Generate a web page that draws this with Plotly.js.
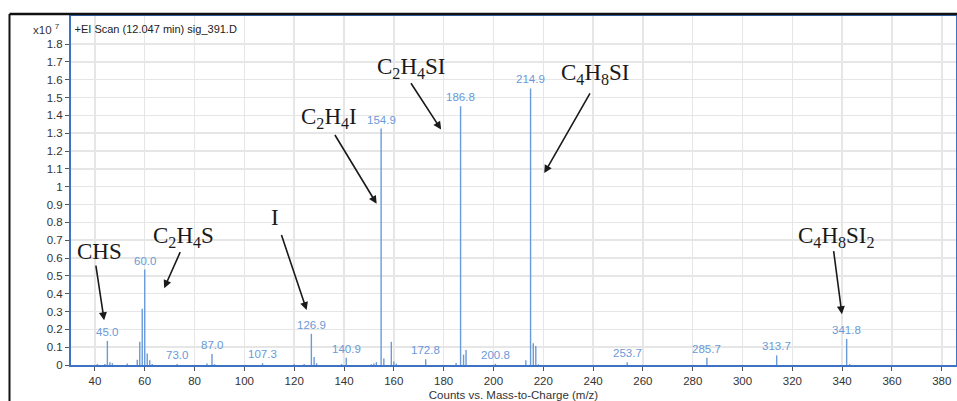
<!DOCTYPE html>
<html>
<head>
<meta charset="utf-8">
<script src="https://cdn.plot.ly/plotly-3.0.1.min.js"></script>
<style>html,body{margin:0;padding:0;background:#fff;}#chart{width:957px;height:401px;}</style>
</head>
<body>
<div id="chart"></div>
<script>
// m/z values and intensities (counts, x10^7)
const mz = [41, 44, 45.0, 46, 47, 53, 57, 58, 59, 60.0, 61, 62, 63, 73.0, 85, 87.0, 88, 107.3, 120, 124, 126.9, 128, 129, 139, 140.9, 151, 152, 153, 154.9, 156, 159, 160, 161, 172.8, 185, 186.8, 188, 189, 200.8, 213, 214.9, 216, 217, 218, 253.7, 285.7, 313.7, 341.8, 343];
const intensity = [0.006, 0.005, 0.135, 0.016, 0.010, 0.008, 0.030, 0.130, 0.315, 0.535, 0.064, 0.027, 0.005, 0.005, 0.008, 0.062, 0.005, 0.010, 0.004, 0.005, 0.175, 0.045, 0.010, 0.005, 0.040, 0.004, 0.008, 0.016, 1.326, 0.036, 0.130, 0.020, 0.008, 0.032, 0.011, 1.451, 0.058, 0.084, 0.007, 0.026, 1.551, 0.122, 0.107, 0.004, 0.016, 0.040, 0.054, 0.146, 0.005];
const labeledPeaks = [45.0, 60.0, 73.0, 87.0, 107.3, 126.9, 140.9, 154.9, 172.8, 186.8, 200.8, 214.9, 253.7, 285.7, 313.7, 341.8];
const xTicks = [40, 60, 80, 100, 120, 140, 160, 180, 200, 220, 240, 260, 280, 300, 320, 340, 360, 380];
const yTicks = [0, 0.1, 0.2, 0.3, 0.4, 0.5, 0.6, 0.7, 0.8, 0.9, 1, 1.1, 1.2, 1.3, 1.4, 1.5, 1.6, 1.7, 1.8];
const fragmentNames = ["CHS", "C<sub>2</sub>H<sub>4</sub>S", "I", "C<sub>2</sub>H<sub>4</sub>I", "C<sub>2</sub>H<sub>4</sub>SI", "C<sub>4</sub>H<sub>8</sub>SI", "C<sub>4</sub>H<sub>8</sub>SI<sub>2</sub>"];

// Stick spectrum built from the arrays
const sx = [], sy = [];
mz.forEach((m, i) => { sx.push(m, m, null); sy.push(0, intensity[i], null); });

const peakColor = '#6a9ad8';

const annotations = [];
labeledPeaks.forEach(m => {
  const i = mz.indexOf(m);
  annotations.push({x: m, y: intensity[i], xref: 'x', yref: 'y', text: m.toFixed(1), showarrow: false,
    yanchor: 'bottom', xanchor: 'center', yshift: 1,
    font: {family: 'Liberation Sans, Arial, sans-serif', size: 11.5, color: '#6a9ad8'}});
});

// fragment label placements (text centre, arrow tail, arrow head) in data units
const fragPos = [
  {tx: 42.0, ty: 0.636, ax: 40.3, ay: 0.566, hx: 43.7, hy: 0.251},
  {tx: 75.7, ty: 0.720, ax: 74.5, ay: 0.641, hx: 67.8, hy: 0.431},
  {tx: 112.3, ty: 0.827, ax: 114.7, ay: 0.737, hx: 125.0, hy: 0.308},
  {tx: 134.0, ty: 1.384, ax: 136.0, ay: 1.298, hx: 153.1, hy: 0.904},
  {tx: 166.9, ty: 1.665, ax: 166.5, ay: 1.588, hx: 179.0, hy: 1.320},
  {tx: 240.8, ty: 1.631, ax: 239.1, ay: 1.532, hx: 220.4, hy: 1.076},
  {tx: 337.6, ty: 0.720, ax: 336.5, ay: 0.647, hx: 339.9, hy: 0.285}
];
fragmentNames.forEach((name, i) => {
  const p = fragPos[i];
  annotations.push({x: p.tx, y: p.ty, xref: 'x', yref: 'y', text: name, showarrow: false,
    xanchor: 'center', yanchor: 'middle',
    font: {family: 'Liberation Serif, Times New Roman, serif', size: 23, color: '#1a1a1a'}});
  annotations.push({x: p.hx, y: p.hy, ax: p.ax, ay: p.ay, xref: 'x', yref: 'y', axref: 'x', ayref: 'y',
    text: '', showarrow: true, arrowhead: 2, arrowsize: 1, arrowwidth: 1.6, arrowcolor: '#1a1a1a', standoff: 0});
});

annotations.push({xref: 'paper', yref: 'paper', x: -0.01, y: 0.962, xanchor: 'right', yanchor: 'middle',
  text: 'x10 <sup>7</sup>', showarrow: false, font: {family: 'Liberation Sans, Arial, sans-serif', size: 11.5, color: '#333'}});

const trace = {x: sx, y: sy, type: 'scatter', mode: 'lines', line: {color: peakColor, width: 1.4},
  hoverinfo: 'skip', showlegend: false, cliponaxis: true};

const layout = {
  width: 957, height: 401,
  margin: {l: 71, r: 1, t: 16, b: 36, pad: 0},
  paper_bgcolor: '#ffffff', plot_bgcolor: '#ffffff',
  font: {family: 'Liberation Sans, Arial, sans-serif', size: 11, color: '#333'},
  title: {text: '+EI Scan (12.047 min) sig_391.D', xref: 'paper', yref: 'paper', x: 0.004, xanchor: 'left',
    y: 0.962, yanchor: 'middle', font: {family: 'Liberation Sans, Arial, sans-serif', size: 11, color: '#222'}},
  xaxis: {range: [30.4, 385.7], tickvals: xTicks, ticktext: xTicks.map(String), ticks: 'outside', ticklen: 4,
    tickcolor: '#555', showgrid: true, gridcolor: '#e6e6e6', gridwidth: 1.5, zeroline: false,
    showline: true, linecolor: '#3d72c4', linewidth: 2, mirror: true,
    tickfont: {size: 11.5, color: '#333'},
    title: {text: 'Counts vs. Mass-to-Charge (m/z)', standoff: 7, font: {size: 11.5, color: '#333'}}},
  yaxis: {range: [0, 1.957], tickvals: yTicks, ticktext: yTicks.map(String), ticks: 'outside', ticklen: 4, tickcolor: '#555',
    showgrid: true, gridcolor: '#e6e6e6', gridwidth: 1.5, zeroline: false,
    showline: true, linecolor: '#3d72c4', linewidth: 2, mirror: true,
    tickfont: {size: 11.5, color: '#333'}},
  annotations: annotations,
  shapes: [
    {type: 'line', xref: 'paper', yref: 'paper', x0: -0.0695, x1: 1.01, y0: 1.0057, y1: 1.0057, line: {color: '#111', width: 2.5}},
    {type: 'line', xref: 'paper', yref: 'paper', x0: -0.0695, x1: -0.0695, y0: 1.0057, y1: -0.2, line: {color: '#111', width: 2}}
  ]
};

Plotly.newPlot('chart', [trace], layout, {displayModeBar: false, staticPlot: true});
</script>
</body>
</html>
